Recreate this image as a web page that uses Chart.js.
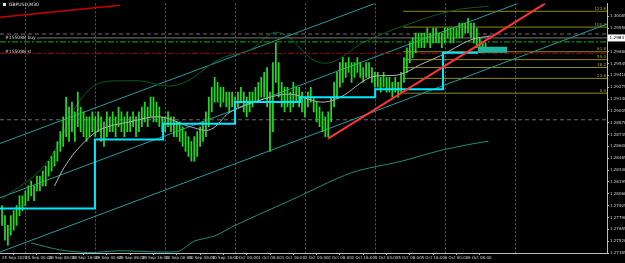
<!DOCTYPE html>
<html><head><meta charset="utf-8">
<script src="https://cdn.jsdelivr.net/npm/chart.js@4.4.1/dist/chart.umd.min.js"></script>
<style>html,body{margin:0;padding:0;background:#000;}canvas{display:block;}</style>
</head><body>
<canvas id="c" width="625" height="263"></canvas>
<script>
// ---- data ----
const symbolLabel = 'GBPUSD,M30';
const xLabels = ['25 Sep 2020','28 Sep 00:00','28 Sep 08:00','28 Sep 16:00','29 Sep 00:00','29 Sep 08:00','29 Sep 16:00','30 Sep 00:00','30 Sep 08:00','30 Sep 16:00','1 Oct 00:00','1 Oct 08:00','1 Oct 16:00','2 Oct 00:00','2 Oct 08:00','2 Oct 16:00','5 Oct 00:00','5 Oct 08:00','5 Oct 16:00','6 Oct 00:00','6 Oct 08:00'];
const xTickHours = [0,8,16,24,32,40,48,56,64,72,80,88,96,104,112,120,128,136,144,152,160];
const gridHours = [8,32,56,80,104,128,152,176];
const yTicks = [1.30085,1.29950,1.29815,1.29680,1.29545,1.29410,1.29275,1.29140,1.29005,1.28870,1.28735,1.28600,1.28465,1.28330,1.28195,1.28060,1.27925,1.27790,1.27655,1.27520,1.27385];
const barStepHours = 1;
const highs = [
1.27925,1.27812,1.27700,1.27812,1.27869,1.27925,1.28037,1.28037,1.28094,1.28150,
1.28206,1.28150,1.28262,1.28262,1.28319,1.28375,1.28431,1.28487,1.28544,1.28656,
1.28769,1.28937,1.29162,1.29050,1.29106,1.28994,1.29219,1.29050,1.28994,1.28937,
1.28937,1.28994,1.28937,1.28994,1.28937,1.28881,1.28994,1.28937,1.28994,1.28937,
1.29050,1.28994,1.28937,1.28994,1.28937,1.28994,1.28937,1.28994,1.29050,1.29106,
1.29050,1.29162,1.29162,1.29106,1.29050,1.28937,1.28937,1.28994,1.28937,1.28937,
1.28881,1.28881,1.28825,1.28769,1.28712,1.28656,1.28712,1.28769,1.28825,1.28881,
1.28994,1.29162,1.29275,1.29387,1.29331,1.29275,1.29275,1.29219,1.29219,1.29219,
1.29162,1.29219,1.29275,1.29219,1.29162,1.29219,1.29219,1.29275,1.29331,1.29387,
1.29444,1.29500,1.29219,1.29556,1.29781,1.29556,1.29331,1.29275,1.29275,1.29219,
1.29331,1.29275,1.29275,1.29219,1.29162,1.29219,1.29275,1.29162,1.29106,1.29050,
1.28994,1.28937,1.28994,1.29162,1.29331,1.29444,1.29556,1.29612,1.29556,1.29612,
1.29556,1.29556,1.29612,1.29556,1.29500,1.29556,1.29556,1.29500,1.29444,1.29444,
1.29387,1.29444,1.29387,1.29387,1.29331,1.29387,1.29331,1.29444,1.29612,1.29725,
1.29781,1.29837,1.29894,1.29894,1.29894,1.29894,1.29950,1.29894,1.29950,1.29950,
1.29894,1.29894,1.29950,1.29950,1.29950,1.29950,1.29950,1.30006,1.30006,1.30006,
1.30062,1.30006,1.30006,1.29950,1.29837,1.29781,1.29781];
const lows = [
1.27700,1.27531,1.27475,1.27587,1.27644,1.27700,1.27812,1.27869,1.27925,1.27981,
1.28037,1.27981,1.28094,1.28094,1.28150,1.28150,1.28262,1.28319,1.28375,1.28431,
1.28544,1.28600,1.28712,1.28656,1.28769,1.28656,1.28825,1.28769,1.28712,1.28656,
1.28712,1.28769,1.28712,1.28769,1.28656,1.28600,1.28712,1.28769,1.28769,1.28712,
1.28825,1.28769,1.28712,1.28769,1.28769,1.28825,1.28712,1.28769,1.28825,1.28881,
1.28825,1.28937,1.28881,1.28881,1.28825,1.28769,1.28769,1.28825,1.28769,1.28712,
1.28712,1.28656,1.28600,1.28544,1.28487,1.28431,1.28431,1.28487,1.28600,1.28656,
1.28712,1.28825,1.28994,1.29106,1.29106,1.29050,1.29106,1.29050,1.28994,1.29050,
1.28994,1.29050,1.29106,1.28994,1.28937,1.28994,1.29050,1.29106,1.29106,1.29162,
1.29162,1.29050,1.28544,1.28769,1.29331,1.29162,1.29050,1.28994,1.29050,1.28994,
1.29050,1.29106,1.29050,1.28994,1.28937,1.29050,1.29106,1.28994,1.28881,1.28825,
1.28769,1.28712,1.28712,1.28881,1.29050,1.29162,1.29275,1.29331,1.29387,1.29444,
1.29331,1.29387,1.29444,1.29387,1.29331,1.29387,1.29387,1.29331,1.29275,1.29275,
1.29219,1.29275,1.29219,1.29219,1.29162,1.29219,1.29162,1.29219,1.29331,1.29444,
1.29556,1.29612,1.29669,1.29725,1.29725,1.29725,1.29781,1.29725,1.29781,1.29781,
1.29781,1.29725,1.29781,1.29837,1.29781,1.29781,1.29837,1.29837,1.29837,1.29894,
1.29894,1.29837,1.29781,1.29725,1.29669,1.29669,1.29691];
const stepHours  = [-0.7,31.9,55.3,80.0,102.3,128.1,151.4,163.4];
const stepValues = [1.27891,1.28678,1.28858,1.29106,1.29162,1.29252,1.29669,1.29669];
const maHours  = [18,21.6,26.8,33.7,44,54.3,64.6,71.5,78.4,88.7,99,109.3,116.2,126.5,136.8,143.7,150.6,160.9,167.8];
const maValues = [1.28150,1.28375,1.28600,1.28791,1.28881,1.28937,1.28825,1.28791,1.28994,1.29129,1.29196,1.29106,1.29162,1.29387,1.29421,1.29534,1.29635,1.29815,1.29860];
const lowerBandHours  = [10,20,30,40,60,66,73,80,100,120,137,150,160,167];
const lowerBandValues = [1.27500,1.27420,1.27390,1.27410,1.27400,1.27520,1.27580,1.27700,1.28000,1.28300,1.28430,1.28550,1.28620,1.28660];
const upperBandHours  = [0,15,30,45,60,75,85,95,110,125,140,155,167];
const upperBandValues = [1.28000,1.28400,1.29250,1.29350,1.29300,1.29600,1.29700,1.29900,1.29550,1.29800,1.30000,1.30150,1.30200];
const channelUpper  = [[-0.7,1.28634],[128.1,1.30231]];
const channelMiddle = [[-0.7,1.28015],[177.2,1.30231]];
const channelLower  = [[-0.7,1.27396],[207.7,1.29995]];
const redTrend    = [[111.9,1.28690],[186.5,1.30231]];
const redTopLeft  = [[-0.7,1.30074],[40.5,1.30209]];
const dashLevels  = [1.29882,1.28904];
const bidLine     = {from:12.0, value:1.29837};
const buyLevel    = 1.29792;
const slLevel     = 1.29659;
const fibFrom = 137.7;
const fibLevels = [1.30141,1.29961,1.29680,1.29590,1.29500,1.29376,1.29207];
const fibNames  = ['123.6','100.0','61.8','50.0','38.2','23.6','0.0'];
const boxHours = [163.4,173.4];
const boxValue = 1.29703;
const currentPrice = '1.29837';
const orderLabels = ['#155088 buy','#155088 sl'];

// ---- build ----
const X_MIN = -0.7, X_MAX = 207.7, Y_MIN = 1.27385, Y_MAX = 1.30231;
const pts = (a) => a.map(p => ({x:p[0], y:p[1]}));
const ln = (data, color, width, order, extra={}) => Object.assign({type:'line', data, borderColor:color, borderWidth:width, pointRadius:0, tension:0, fill:false, order}, extra);

const bars = lows.map((l,i)=>({x:i*barStepHours, y:[l, highs[i]]}));
const datasets = [];
dashLevels.forEach(v => datasets.push(ln(pts([[X_MIN,v],[X_MAX,v]]), '#6e6e6e', 1, 20, {borderDash:[4,3]})));
fibLevels.forEach(v => datasets.push(ln(pts([[fibFrom,v],[X_MAX,v]]), '#8c8c14', 1, 19)));
datasets.push(ln(pts(channelUpper), '#1f9c9c', 1, 18));
datasets.push(ln(pts(channelMiddle), '#1f9c9c', 1, 18));
datasets.push(ln(pts(channelLower), '#1f9c9c', 1, 18));
datasets.push(ln(upperBandHours.map((h,i)=>({x:h,y:upperBandValues[i]})), '#0d5a22', 1, 17, {tension:0.4}));
datasets.push(ln(lowerBandHours.map((h,i)=>({x:h,y:lowerBandValues[i]})), '#1a8f7a', 1, 17, {tension:0.3}));
datasets.push(ln(pts([[bidLine.from,bidLine.value],[X_MAX,bidLine.value]]), '#777777', 1, 16));
datasets.push(ln(pts([[X_MIN,buyLevel],[X_MAX,buyLevel]]), '#00b400', 1, 15, {borderDash:[6,2,2,2]}));
datasets.push(ln(pts([[X_MIN,slLevel],[X_MAX,slLevel]]), '#9a0000', 1, 15, {borderDash:[6,2,2,2]}));
datasets.push({type:'bar', data:bars, backgroundColor:'#22d822', borderWidth:0, barThickness:1.1, order:10});
datasets.push(ln(maHours.map((h,i)=>({x:h,y:maValues[i]})), '#b4b4b4', 1, 8, {tension:0.35}));
datasets.push(ln(stepHours.map((h,i)=>({x:h,y:stepValues[i]})), '#00e8ff', 2, 6, {stepped:'before'}));
datasets.push(ln(pts(redTrend), '#ff3434', 2, 5));
datasets.push(ln(pts(redTopLeft), '#c80000', 1.5, 5));
datasets.push(ln([{x:boxHours[0],y:boxValue},{x:boxHours[1],y:boxValue}], '#1fb5a0', 6, 4, {borderCapStyle:'butt'}));

const overlay = {
  id:'overlay',
  beforeDatasetsDraw(chart){
    const {ctx, chartArea:a, scales:{x}} = chart;
    ctx.save();
    ctx.strokeStyle = '#5a5a5a'; ctx.lineWidth = 1; ctx.setLineDash([2,2]);
    gridHours.forEach(h => { const px = Math.round(x.getPixelForValue(h))+0.5; ctx.beginPath(); ctx.moveTo(px,a.top); ctx.lineTo(px,a.bottom); ctx.stroke(); });
    ctx.restore();
  },
  afterDraw(chart){
    const {ctx, chartArea:a, scales:{x,y}} = chart;
    ctx.save();
    ctx.textBaseline = 'middle';
    ctx.fillStyle = '#e0e0e0'; ctx.fillRect(3,3,3,3);
    ctx.font = '4.5px "DejaVu Sans"'; ctx.textAlign = 'left';
    ctx.fillText(symbolLabel, 9, 5);
    ctx.fillStyle = '#d8d8d8';
    ctx.fillText(orderLabels[0], 5, y.getPixelForValue(bidLine.value));
    ctx.fillText(orderLabels[1], 5, y.getPixelForValue(slLevel) - 2);
    ctx.fillStyle = '#a0a020'; ctx.textAlign = 'right'; ctx.font = '4px "DejaVu Sans"';
    fibLevels.forEach((v,i) => ctx.fillText(fibNames[i], a.right - 1, y.getPixelForValue(v) - 2.5));
    const py = y.getPixelForValue(parseFloat(currentPrice));
    ctx.fillStyle = '#ffffff'; ctx.fillRect(a.right+1, py-3.5, 17, 7);
    ctx.fillStyle = '#000000'; ctx.textAlign = 'left'; ctx.font = '4.2px "DejaVu Sans"';
    ctx.fillText(currentPrice, a.right + 2.5, py + 0.3);
    ctx.restore();
  }
};

new Chart(document.getElementById('c'), {
  type:'bar',
  data:{datasets},
  options:{
    responsive:false, animation:false, devicePixelRatio:1,
    layout:{padding:0},
    plugins:{legend:{display:false}, tooltip:{enabled:false}},
    scales:{
      x:{type:'linear', min:X_MIN, max:X_MAX, offset:false,
        afterBuildTicks(s){ s.ticks = xTickHours.map(v=>({value:v})); },
        afterFit(s){ s.height = 10; },
        grid:{display:true, drawOnChartArea:false, color:'#bdbdbd', tickLength:2},
        border:{display:true, color:'#bdbdbd'},
        ticks:{autoSkip:false, maxRotation:0, align:'start', padding:1, color:'#cfcfcf', font:{size:4, family:'DejaVu Sans'},
          callback(v, i){ return xLabels[i]; }}
      },
      y:{type:'linear', position:'right', min:Y_MIN, max:Y_MAX, stacked:false,
        afterBuildTicks(s){ s.ticks = yTicks.map(v=>({value:v})); },
        afterFit(s){ s.width = 18; },
        grid:{display:true, drawOnChartArea:false, color:'#bdbdbd', tickLength:2},
        border:{display:true, color:'#bdbdbd'},
        ticks:{padding:1, color:'#cfcfcf', font:{size:4, family:'DejaVu Sans'}, callback(v){ return v.toFixed(5); }}
      }
    }
  },
  plugins:[overlay, {id:'bg', beforeDraw(c){ c.ctx.save(); c.ctx.fillStyle='#000'; c.ctx.fillRect(0,0,c.width,c.height); c.ctx.restore(); }}]
});
</script>
</body></html>
